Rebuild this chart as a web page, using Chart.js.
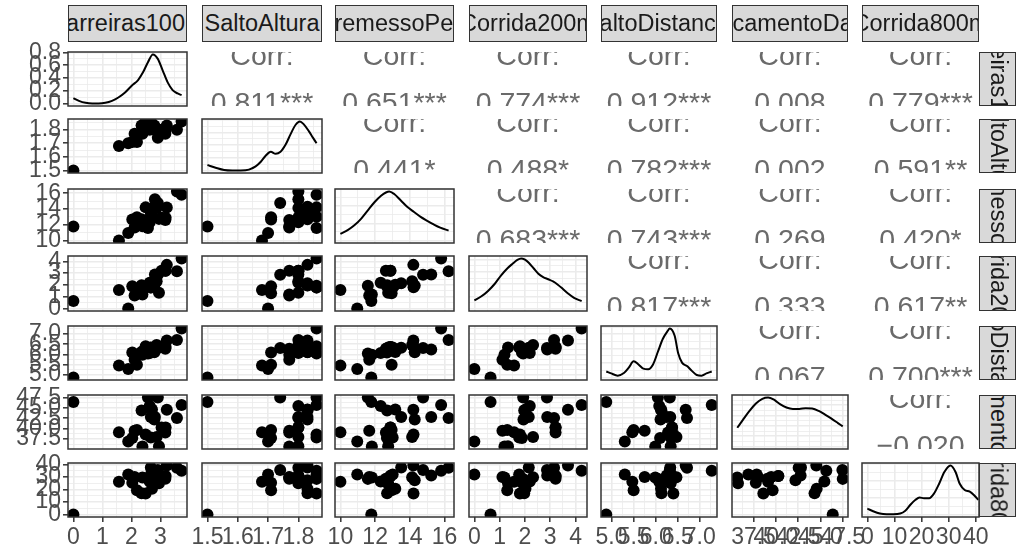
<!DOCTYPE html>
<html><head><meta charset="utf-8">
<script src="https://cdn.jsdelivr.net/npm/chart.js@4.4.1/dist/chart.umd.min.js"></script>
<style>
html,body{margin:0;padding:0;background:#fff;width:1034px;height:550px;overflow:hidden;position:relative;font-family:'Liberation Sans',Arial,sans-serif;}
canvas{position:absolute;}
.strip{position:absolute;background:#d9d9d9;border:1.5px solid #333;box-sizing:border-box;overflow:hidden;}
.strip span{position:absolute;left:50%;top:50%;white-space:nowrap;font-size:23.5px;color:#1a1a1a;line-height:1;}
.top span{transform:translate(-50%,-50%);}
.right span{transform:translate(-50%,-50%) rotate(90deg);}
.corr{position:absolute;overflow:hidden;}
.corr div{position:absolute;left:-40px;right:-40px;text-align:center;font-size:28.5px;line-height:28.5px;color:#6a6a6a;white-space:nowrap;}
</style></head><body>
<script>
// ---------- DATA ----------
const varNames = ['Barreiras100m','SaltoAltura','ArremessoPeso','Corrida200m','SaltoDistancia','LancamentoDardo','Corrida800m'];

const barreiras100m   = [3.73,3.57,3.22,2.81,2.91,2.67,3.04,2.87,2.79,3.17,2.67,3.18,2.57,2.71,2.63,2.49,2.95,2.35,2.03,2.38,2.11,2.19,1.57,1.89,0.00];
const saltoAltura     = [1.86,1.80,1.83,1.80,1.74,1.83,1.80,1.80,1.83,1.77,1.86,1.80,1.86,1.83,1.80,1.86,1.80,1.83,1.71,1.77,1.77,1.71,1.68,1.70,1.50];
const arremessoPeso   = [15.80,16.23,14.20,15.23,14.76,13.50,12.88,14.13,14.28,12.62,13.01,12.88,11.58,13.16,12.32,14.21,12.75,12.69,12.68,11.81,11.66,12.95,10.00,10.97,11.78];
const corrida200m     = [4.24,3.15,3.70,2.88,2.87,2.15,3.21,2.32,1.94,3.21,1.77,3.21,1.93,2.02,2.19,1.80,1.33,1.97,1.88,1.19,1.11,1.30,1.57,0.00,0.64];
const saltoDistancia  = [7.27,6.71,6.68,6.25,6.32,6.33,6.37,6.47,6.11,6.28,6.34,6.37,6.05,6.12,6.08,6.40,6.34,6.13,6.10,5.99,5.75,5.50,5.47,5.30,4.88];
const lancamentoDardo = [45.66,42.56,44.54,42.78,47.46,42.82,40.28,38.00,42.20,39.06,37.86,40.28,47.50,44.58,45.44,38.60,35.76,44.34,37.76,35.68,39.48,39.64,39.14,36.92,46.38];
const corrida800m     = [34.92,37.31,39.23,31.19,35.53,37.64,30.89,29.78,27.38,28.69,31.94,30.89,28.50,20.61,26.37,16.76,24.95,17.00,25.41,29.53,30.08,19.41,26.13,31.95,0.00];

// tick labels (axes)
const ticksBarreiras = [0,1,2,3];
const ticksAltura    = [1.5,1.6,1.7,1.8];
const ticksPeso      = [10,12,14,16];
const ticks200m      = [0,1,2,3,4];
const ticksDistancia = [5.0,5.5,6.0,6.5,7.0];
const ticksDardo     = [37.5,40.0,42.5,45.0,47.5];
const ticks800m      = [0,10,20,30,40];
const tickDecimals   = [0,1,0,0,1,1,0];

// density curves
const densXBarreiras = [0.00,0.19,0.42,0.65,0.87,1.10,1.33,1.55,1.78,2.01,2.23,2.40,2.57,2.74,2.91,3.08,3.25,3.42,3.59,3.73];
const densYBarreiras = [0.084,0.042,0.011,0.001,0.001,0.011,0.042,0.095,0.174,0.280,0.369,0.490,0.649,0.770,0.701,0.517,0.332,0.211,0.158,0.132];
const densXAltura = [1.500,1.527,1.555,1.582,1.610,1.637,1.659,1.676,1.692,1.709,1.725,1.741,1.758,1.774,1.791,1.805,1.818,1.835,1.848,1.860];
const densYAltura = [0.87,0.45,0.09,0.01,0.01,0.14,0.66,1.40,2.34,2.96,2.65,2.96,4.11,5.73,7.25,7.77,7.30,6.20,5.21,4.32];
const densXPeso = [10.00,10.44,10.82,11.20,11.58,11.96,12.34,12.62,12.81,13.10,13.48,13.86,14.24,14.62,15.00,15.37,15.75,16.23];
const densYPeso = [0.039,0.062,0.090,0.128,0.176,0.223,0.261,0.280,0.286,0.271,0.233,0.195,0.166,0.138,0.115,0.094,0.075,0.058];
const densX200m = [0.00,0.28,0.54,0.80,1.05,1.31,1.50,1.70,1.85,2.00,2.15,2.34,2.53,2.72,2.92,3.11,3.30,3.50,3.69,3.94,4.24];
const densY200m = [0.066,0.100,0.144,0.201,0.270,0.330,0.365,0.398,0.410,0.400,0.375,0.330,0.285,0.258,0.240,0.222,0.195,0.160,0.125,0.088,0.060];
const densXDistancia = [4.88,4.99,5.14,5.28,5.39,5.50,5.61,5.72,5.83,5.94,6.05,6.16,6.27,6.32,6.43,6.51,6.60,6.71,6.82,6.93,7.04,7.15,7.27];
const densYDistancia = [0.168,0.115,0.053,0.124,0.274,0.450,0.362,0.247,0.230,0.362,0.715,1.068,1.289,1.360,1.157,0.671,0.406,0.318,0.185,0.071,0.053,0.115,0.168];
const densXDardo = [35.68,36.33,37.05,37.77,38.49,39.14,39.75,40.47,41.19,41.91,42.63,43.35,44.07,44.80,45.52,46.24,46.96,47.50];
const densYDardo = [0.0364,0.0521,0.0690,0.0834,0.0925,0.0951,0.0912,0.0821,0.0756,0.0729,0.0729,0.0742,0.0736,0.0690,0.0618,0.0540,0.0455,0.0390];
const densX800m = [0,2.13,4.63,7.13,9.64,12.14,14.02,15.89,17.77,19.27,20.90,22.78,24.65,26.53,28.41,30.66,32.54,34.04,35.91,37.79,39.29,40.92];
const densY800m = [0.0070,0.0039,0.0012,0.0004,0.0004,0.0012,0.0046,0.0116,0.0174,0.0201,0.0193,0.0193,0.0251,0.0367,0.0503,0.0580,0.0503,0.0367,0.0290,0.0271,0.0232,0.0174];
// density-axis breaks (only the first is labelled)
const densTicksBarreiras = [0,0.2,0.4,0.6,0.8];
const densTicksAltura    = [0,2,4,6,8];
const densTicksPeso      = [0,0.1,0.2,0.3];
const densTicks200m      = [0,0.1,0.2,0.3,0.4];
const densTicksDistancia = [0,0.4,0.8,1.2];
const densTicksDardo     = [0,0.02,0.04,0.06,0.08];
const densTicks800m      = [0,0.02,0.04,0.06];

// correlations (upper triangle, row by row)
const corrCoef  = [0.811,0.651,0.774,0.912,0.008,0.779, 0.441,0.488,0.782,0.002,0.591, 0.683,0.743,0.269,0.420, 0.817,0.333,0.617, 0.067,0.700, -0.020];
const corrStars = ['***','***','***','***','','***', '*','*','***','','**', '***','***','','*', '***','','**', '','***', ''];

// ---------- LAYOUT ----------
const colL=[68,202,335,469,601,732,862], colR=[187,322,454,587,717,848,979];
const rowT=[52,119,189,256,326,395,463], rowB=[106,173,243,311,380,449,517];
const MARGIN=34;

const vars = [barreiras100m,saltoAltura,arremessoPeso,corrida200m,saltoDistancia,lancamentoDardo,corrida800m];
const ticksList = [ticksBarreiras,ticksAltura,ticksPeso,ticks200m,ticksDistancia,ticksDardo,ticks800m];
const densX = [densXBarreiras,densXAltura,densXPeso,densX200m,densXDistancia,densXDardo,densX800m];
const densY = [densYBarreiras,densYAltura,densYPeso,densY200m,densYDistancia,densYDardo,densY800m];
const densTicks = [densTicksBarreiras,densTicksAltura,densTicksPeso,densTicks200m,densTicksDistancia,densTicksDardo,densTicks800m];

Chart.defaults.font.family = "'Liberation Sans', Arial, sans-serif";

function expand(arr){ const mn=Math.min(...arr), mx=Math.max(...arr), r=mx-mn; return [mn-0.05*r, mx+0.05*r]; }

function scaleOpts(axis, range, majors, dec, show, size){
  const step = majors[1]-majors[0];
  const eps = 1e-9;
  const all = [];
  majors.forEach(v=>{ if(v>=range[0]-eps && v<=range[1]+eps) all.push({value:v, minor:false}); });
  for(let k=0;k<=majors.length;k++){
    const v = k===0 ? majors[0]-step/2 : majors[k-1]+step/2;
    if(v>=range[0] && v<=range[1]) all.push({value:v, minor:true});
  }
  all.sort((a,b)=>a.value-b.value);
  return {
    type:'linear', position: axis==='x'?'bottom':'left', min:range[0], max:range[1], bounds:'data',
    afterBuildTicks: s => { s.ticks = all.map(t=>({value:t.value, minor:t.minor})); },
    afterFit: s => { if(axis==='x') s.height=size; else s.width=size; s.paddingLeft=0; s.paddingRight=0; s.paddingTop=0; s.paddingBottom=0; },
    border:{display:false},
    grid:{
      drawOnChartArea:true, drawTicks:show, tickLength:5,
      color:'#ebebeb',
      lineWidth: c => (c.tick && c.tick.minor) ? 0.8 : 1.6,
      tickColor: c => (c.tick && c.tick.minor) ? 'rgba(0,0,0,0)' : '#333333',
      tickWidth:1.5
    },
    ticks:{
      display:show, autoSkip:false, maxRotation:0, minRotation:0, padding:2,
      color:'#4d4d4d', font:{size:23},
      callback:(v,i,ts)=> (ts[i] && ts[i].minor) ? '' : Number(v).toFixed(dec)
    }
  };
}

const borderPlugin = {
  id:'panelBorder',
  afterDatasetsDraw(chart){
    const a = chart.chartArea, ctx = chart.ctx;
    ctx.save(); ctx.strokeStyle='#333333'; ctx.lineWidth=1.5;
    ctx.strokeRect(a.left, a.top, a.right-a.left, a.bottom-a.top);
    ctx.restore();
  }
};

let corrIdx = 0;
for(let i=0;i<7;i++){
  for(let j=0;j<7;j++){
    if(i<j){
      const d=document.createElement('div'); d.className='corr';
      const h=rowB[i]-rowT[i];
      Object.assign(d.style,{left:colL[j]+'px',top:rowT[i]+'px',width:(colR[j]-colL[j])+'px',height:h+'px'});
      const v=corrCoef[corrIdx], st=corrStars[corrIdx]; corrIdx++;
      const l1=document.createElement('div'); l1.textContent='Corr:'; l1.style.top=(h/2-14-24.1)+'px';
      const l2=document.createElement('div'); l2.textContent=(v<0?'\u2212':'')+Math.abs(v).toFixed(3)+st; l2.style.top=(h/2+33-24.1)+'px';
      d.appendChild(l1); d.appendChild(l2); document.body.appendChild(d);
      continue;
    }
    const showY = j===0, showX = i===6;
    const left = showY?0:colL[j]-MARGIN, top=rowT[i]-MARGIN;
    const right = colR[j]+MARGIN, bottom = showX?550:rowB[i]+MARGIN;
    const cv=document.createElement('canvas');
    cv.width=right-left; cv.height=bottom-top;
    cv.style.left=left+'px'; cv.style.top=top+'px';
    document.body.appendChild(cv);
    const xRange=expand(vars[j]);
    let yRange, yTicks, yDec, datasets;
    if(i===j){
      yRange=expand([0,...densY[i]]); yTicks=densTicks[i]; yDec=1;
      datasets=[{data:densX[i].map((x,k)=>({x:x,y:densY[i][k]})), showLine:true, pointRadius:0, borderColor:'#000', borderWidth:2, cubicInterpolationMode:'monotone', fill:false, clip:0}];
    } else {
      yRange=expand(vars[i]); yTicks=ticksList[i]; yDec=tickDecimals[i];
      datasets=[{data:vars[j].map((x,k)=>({x:x,y:vars[i][k]})), pointRadius:6, backgroundColor:'#000', borderColor:'#000', borderWidth:0, pointBorderWidth:0, clip:0}];
    }
    new Chart(cv,{
      type:'scatter',
      data:{datasets},
      options:{
        responsive:false, animation:false, devicePixelRatio:1, events:[],
        layout:{padding:{left:showY?0:MARGIN, right:MARGIN, top:MARGIN, bottom:showX?0:MARGIN}},
        plugins:{legend:{display:false}, tooltip:{enabled:false}},
        scales:{
          x: scaleOpts('x', xRange, ticksList[j], tickDecimals[j], showX, showX?550-rowB[6]:0),
          y: scaleOpts('y', yRange, yTicks, yDec, showY, showY?colL[0]:0)
        }
      },
      plugins:[borderPlugin]
    });
  }
}

// strips
for(let j=0;j<7;j++){
  const s=document.createElement('div'); s.className='strip top';
  Object.assign(s.style,{left:colL[j]+'px',top:'5px',width:(colR[j]-colL[j])+'px',height:'37px'});
  const t=document.createElement('span'); t.textContent=varNames[j]; s.appendChild(t); document.body.appendChild(s);
}
for(let i=0;i<7;i++){
  const s=document.createElement('div'); s.className='strip right';
  Object.assign(s.style,{left:colR[6]+'px',top:rowT[i]+'px',width:'37px',height:(rowB[i]-rowT[i])+'px'});
  const t=document.createElement('span'); t.textContent=varNames[i]; s.appendChild(t); document.body.appendChild(s);
}
</script>
</body></html>
